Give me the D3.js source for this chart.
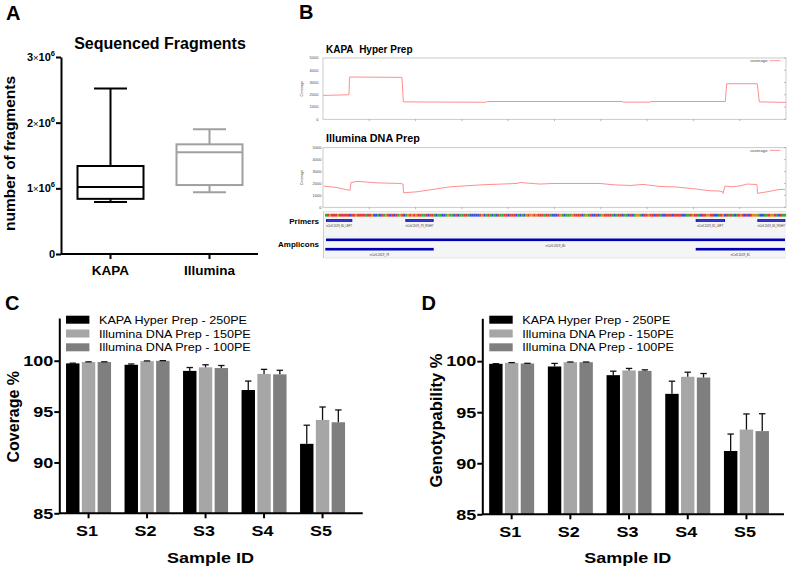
<!DOCTYPE html>
<html><head><meta charset="utf-8">
<script src="https://cdn.jsdelivr.net/npm/d3@7"></script>
<style>
body{margin:0;background:#fff}
svg{display:block}
text{font-family:"Liberation Sans",Arial,Helvetica,sans-serif}
</style>
</head><body>
<svg id="fig" width="787" height="567"></svg>
<script>
// ---------------- DATA ----------------
// Panel A: box plot of sequenced fragments
const boxCategories = ["KAPA", "Illumina"];
const boxMin    = [790000, 940000];
const boxQ1     = [840000, 1050000];
const boxMedian = [1020000, 1550000];
const boxQ3     = [1340000, 1670000];
const boxMax    = [2520000, 1900000];
const boxColors = ["#000000", "#a0a0a0"];
const boxYTicks = [0, 1000000, 2000000, 3000000];

// Panel B: coverage tracks (position offset in bp within window, coverage)
const kapaPos = [0, 26, 26.5, 79, 80.3, 162.7, 164.3, 299, 300.3, 327, 328, 402.3, 403.7, 434.3, 436.3, 463];
const kapaCov = [1950, 2000, 3450, 3420, 1420, 1390, 1450, 1450, 1400, 1400, 1450, 1450, 2900, 2900, 1420, 1380];
const illPos = [1, 13, 27, 28, 34, 40, 54, 77, 80, 80.5, 94, 110, 127, 160, 194, 197, 217, 230, 277, 290, 307, 320, 337, 354, 370, 387, 397, 399.5, 400, 402, 410, 417, 424, 432, 434, 434.5, 444, 457, 462];
const illCov = [1780, 1670, 1420, 2080, 2170, 2140, 2050, 2000, 1950, 1220, 1300, 1500, 1720, 1890, 2000, 2080, 1950, 2000, 2000, 1890, 1830, 1920, 1750, 1700, 1560, 1390, 1360, 1300, 1170, 1780, 1720, 1800, 1950, 1920, 1900, 1170, 1300, 1500, 1500];
const covYTicks = [0, 1000, 2000, 3000, 4000, 5000];
const seqBases = "ATGTTTGTTTTTCTTGTTTTATTGCCACTAGTCTCTAGTCAGTGTGTTAATCTTACAACCAGAACTCAATTACCCCCTGCATACACTAATTCTTTCACACGTGGTGTTTATTACCCTGACAAAGTTTTCAGATCCTCAGTTTTACATTCAACTCAGGACTTGTTCTTACCTTTCTTTTCCAATGTTACTTGGTTCCATGCTATACATGTCTCTGGGACCAATGGTACTAA";
const primerNames = ["nCoV-2019_80_LEFT", "nCoV-2019_79_RIGHT", "nCoV-2019_81_LEFT", "nCoV-2019_80_RIGHT"];
const primerStart = [3, 82.3, 372.7, 434.3];
const primerEnd   = [29.3, 110.7, 402, 462.3];
const ampliconNames = ["nCoV-2019_80", "nCoV-2019_79", "nCoV-2019_81"];
const ampliconStart = [3, 2.3, 372.7];
const ampliconEnd   = [462, 110.7, 462];
const ampliconRow   = [0, 1, 1];

// Panels C & D: bar charts
const samples = ["S1", "S2", "S3", "S4", "S5"];
const seriesNames = ["KAPA Hyper Prep - 250PE", "Illumina DNA Prep - 150PE", "Illumina DNA Prep - 100PE"];
const seriesColors = ["#000000", "#a6a6a6", "#7f7f7f"];
const coverageKAPA = [99.74, 99.60, 99.00, 97.12, 91.83];
const coverageKAPAErr = [0.02, 0.08, 0.33, 0.88, 1.83];
const coverage150 = [99.87, 99.96, 99.35, 98.70, 94.18];
const coverage150Err = [0.02, 0.02, 0.25, 0.45, 1.27];
const coverage100 = [99.87, 99.99, 99.28, 98.66, 93.95];
const coverage100Err = [0.02, 0.02, 0.25, 0.40, 1.21];
const genoKAPA = [99.74, 99.48, 98.63, 96.80, 91.20];
const genoKAPAErr = [0.02, 0.30, 0.39, 1.24, 1.66];
const geno150 = [99.84, 99.90, 99.09, 98.47, 93.30];
const geno150Err = [0.02, 0.02, 0.20, 0.45, 1.53];
const geno100 = [99.77, 99.90, 99.05, 98.40, 93.15];
const geno100Err = [0.02, 0.02, 0.10, 0.39, 1.70];
const barYTicks = [85, 90, 95, 100];

// ---------------- DRAW ----------------
const svg = d3.select("#fig");

function panelLetter(t, x, y) {
  svg.append("text").attr("x", x).attr("y", y).attr("font-size", 20).attr("font-weight", "bold").text(t);
}
panelLetter("A", 6, 19.5);
panelLetter("B", 299, 18.5);
panelLetter("C", 5, 309.5);
panelLetter("D", 421.5, 309.5);

// ===== Panel A =====
(function () {
  const g = svg.append("g");
  const y = d3.scaleLinear().domain([0, 3000000]).range([254, 57]);
  const x = d3.scaleBand().domain(boxCategories).range([61, 259]);
  const yAx = g.append("g").attr("transform", "translate(61,0)")
    .call(d3.axisLeft(y).tickValues(boxYTicks).tickSize(5).tickSizeOuter(0).tickFormat(""));
  yAx.selectAll("path,line").attr("stroke", "#000").attr("stroke-width", 2);
  const xAx = g.append("g").attr("transform", "translate(0,254)")
    .call(d3.axisBottom(x).tickSize(5).tickSizeOuter(0).tickFormat(""));
  xAx.select(".domain").attr("d", "M61,0H258");
  xAx.selectAll("path,line").attr("stroke", "#000").attr("stroke-width", 2);

  boxYTicks.forEach(v => {
    const t = g.append("text").attr("x", 55).attr("y", y(v) + 4).attr("text-anchor", "end")
      .attr("font-size", 11).attr("font-weight", "bold");
    if (v === 0) { t.text("0"); return; }
    t.append("tspan").text(String(v / 1000000));
    t.append("tspan").attr("font-weight", "normal").attr("font-size", 9.5).text("\u00d7");
    t.append("tspan").text("10");
    t.append("tspan").attr("font-size", 7.5).attr("dy", -5).text("6");
  });
  boxCategories.forEach(c => {
    g.append("text").attr("x", x(c) + x.bandwidth() / 2).attr("y", 274.5).attr("text-anchor", "middle")
      .attr("font-size", 13.5).attr("font-weight", "bold").text(c);
  });
  g.append("text").attr("x", 160).attr("y", 48.5).attr("text-anchor", "middle")
    .attr("font-size", 16).attr("font-weight", "bold").text("Sequenced Fragments");
  g.append("text").attr("transform", "translate(14.5,153.5) rotate(-90)").attr("text-anchor", "middle")
    .attr("font-size", 15.5).attr("font-weight", "bold").text("number of fragments");

  boxCategories.forEach((c, i) => {
    const cx = x(c) + x.bandwidth() / 2;
    const col = boxColors[i];
    const bg = g.append("g").attr("stroke", col).attr("stroke-width", 2).attr("fill", "none");
    bg.append("line").attr("x1", cx).attr("x2", cx).attr("y1", y(boxMax[i])).attr("y2", y(boxQ3[i]));
    bg.append("line").attr("x1", cx).attr("x2", cx).attr("y1", y(boxQ1[i])).attr("y2", y(boxMin[i]));
    bg.append("line").attr("x1", cx - 16.5).attr("x2", cx + 16.5).attr("y1", y(boxMax[i])).attr("y2", y(boxMax[i]));
    bg.append("line").attr("x1", cx - 16.5).attr("x2", cx + 16.5).attr("y1", y(boxMin[i])).attr("y2", y(boxMin[i]));
    bg.append("rect").attr("x", cx - 33).attr("width", 66).attr("y", y(boxQ3[i])).attr("height", y(boxQ1[i]) - y(boxQ3[i]));
    bg.append("line").attr("x1", cx - 33).attr("x2", cx + 33).attr("y1", y(boxMedian[i])).attr("y2", y(boxMedian[i]));
  });
})();

// ===== Panel B =====
const xB = d3.scaleLinear().domain([0, 463]).range([323, 786]);
function coveragePlot(top, bottom, pos, cov, title, titleY, titleSize, labelRight) {
  const g = svg.append("g");
  const y = d3.scaleLinear().domain([0, 5000]).range([bottom, top]);
  g.append("rect").attr("x", xB(0)).attr("y", top).attr("width", xB(463) - xB(0)).attr("height", bottom - top)
    .attr("fill", "#fff").attr("stroke", "#bdbdbd").attr("stroke-width", 0.8);
  covYTicks.forEach(v => {
    g.append("text").attr("x", labelRight).attr("y", y(v) + 1.4).attr("text-anchor", "end")
      .attr("font-size", 4).attr("fill", "#444").text(v);
    g.append("line").attr("x1", xB(463) - 2).attr("x2", xB(463)).attr("y1", y(v)).attr("y2", y(v))
      .attr("stroke", "#999").attr("stroke-width", 0.6);
  });
  d3.range(1, 10).forEach(k => {
    const xx = xB(k * 46.3);
    g.append("line").attr("x1", xx).attr("x2", xx).attr("y1", bottom).attr("y2", bottom + 1.8)
      .attr("stroke", "#888").attr("stroke-width", 0.6);
  });
  g.append("text").attr("transform", `translate(${302.5},${(top + bottom) / 2}) rotate(-90)`).attr("text-anchor", "middle")
    .attr("font-size", 3.6).attr("fill", "#444").text("Coverage");
  const line = d3.line().x(d => xB(d[0])).y(d => y(d[1]));
  g.append("path").datum(pos.map((p, i) => [p, cov[i]])).attr("d", line)
    .attr("fill", "none").attr("stroke", "#ff8f8f").attr("stroke-width", 1);
  g.append("text").attr("x", 767.5).attr("y", top + 4).attr("text-anchor", "end")
    .attr("font-size", 4.2).attr("fill", "#444").text("coverage");
  g.append("line").attr("x1", 769.5).attr("x2", 780.5).attr("y1", top + 2.7).attr("y2", top + 2.7)
    .attr("stroke", "#ff8f8f").attr("stroke-width", 0.9);
  g.append("text").attr("x", 326).attr("y", titleY).attr("font-size", titleSize).attr("font-weight", "bold")
    .text(title);
}
coveragePlot(58, 119.3, kapaPos, kapaCov, "KAPA\u00a0 Hyper Prep", 52.7, 10, 318.5);
coveragePlot(147.7, 207.3, illPos, illCov, "Illumina DNA Prep", 142.3, 10.8, 321.5);

(function () {
  const g = svg.append("g");
  g.append("rect").attr("x", 323.5).attr("y", 211.5).attr("width", 462.5).attr("height", 46.5)
    .attr("fill", "#f5f5f5");
  g.append("line").attr("x1", 323.5).attr("x2", 786).attr("y1", 211.5).attr("y2", 211.5).attr("stroke", "#d6d6d6").attr("stroke-width", 0.6);
  g.append("line").attr("x1", 323.5).attr("x2", 786).attr("y1", 258).attr("y2", 258).attr("stroke", "#d6d6d6").attr("stroke-width", 0.6);
  g.append("line").attr("x1", 323.5).attr("x2", 786).attr("y1", 236.5).attr("y2", 236.5).attr("stroke", "#e2e2e2").attr("stroke-width", 0.5);
  g.append("line").attr("x1", 323.5).attr("x2", 323.5).attr("y1", 211.5).attr("y2", 258).attr("stroke", "#c2c2c2").attr("stroke-width", 0.8);
  const baseColor = { A: "#3aa83a", C: "#3a4fe0", G: "#e08a22", T: "#e23a3a" };
  const xs = d3.scaleBand().domain(d3.range(seqBases.length)).range([xB(2), xB(463)]);
  g.selectAll("rect.base").data(seqBases.split("")).join("rect").attr("class", "base")
    .attr("x", (d, i) => xs(i)).attr("width", xs.bandwidth() + 0.15).attr("y", 213.8).attr("height", 2.8)
    .attr("fill", d => baseColor[d]);

  primerNames.forEach((n, i) => {
    const x0 = xB(primerStart[i]), x1 = xB(primerEnd[i]);
    g.append("rect").attr("x", x0).attr("width", x1 - x0).attr("y", 219.2).attr("height", 2.6).attr("fill", "#0000b4");
    g.append("line").attr("x1", x0 + 1).attr("x2", x1 - 1).attr("y1", 220.5).attr("y2", 220.5)
      .attr("stroke", "#8a8af5").attr("stroke-width", 0.4);
    g.append("text").attr("x", (x0 + x1) / 2).attr("y", 226.6).attr("text-anchor", "middle")
      .attr("font-size", 2.7).attr("fill", "#333").text(n);
  });
  ampliconNames.forEach((n, i) => {
    const x0 = xB(ampliconStart[i]), x1 = xB(ampliconEnd[i]);
    const yy = ampliconRow[i] === 0 ? 238.5 : 247.9;
    g.append("rect").attr("x", x0).attr("width", x1 - x0).attr("y", yy).attr("height", 2.6).attr("fill", "#0000b4");
    g.append("text").attr("x", (x0 + x1) / 2).attr("y", yy + 8.4).attr("text-anchor", "middle")
      .attr("font-size", 2.9).attr("fill", "#333").text(n);
  });
  g.append("text").attr("x", 319).attr("y", 224).attr("text-anchor", "end").attr("font-size", 8)
    .attr("font-weight", "bold").text("Primers");
  g.append("text").attr("x", 319).attr("y", 246.5).attr("text-anchor", "end").attr("font-size", 8)
    .attr("font-weight", "bold").text("Amplicons");
})();

// ===== Panels C and D =====
const SX = 1.2; // horizontal stretch of text in these panels
function stretchedText(g, x, y, txt, size, anchor, weight) {
  return g.append("text").attr("transform", `translate(${x},${y}) scale(${SX},1)`)
    .attr("text-anchor", anchor).attr("font-size", size).attr("font-weight", weight).text(txt);
}
function barPanel(o) {
  const g = svg.append("g");
  const y = d3.scaleLinear().domain([85, 104.2]).range([o.bottom, o.top]);
  const x = d3.scaleBand().domain(samples).range([o.left, o.left + 5 * o.step]);
  const xi = d3.scaleBand().domain(seriesNames).range([-22.5, 22.5]).paddingInner(0.15);
  const vals = o.values, errs = o.errors;
  seriesNames.forEach((s, si) => {
    samples.forEach((smp, k) => {
      const cx = x(smp) + x.bandwidth() / 2;
      const bx = cx + xi(s);
      const v = vals[si][k], e = errs[si][k];
      g.append("rect").attr("x", bx).attr("width", xi.bandwidth()).attr("y", y(v)).attr("height", y(85) - y(v))
        .attr("fill", seriesColors[si]);
      const mx = bx + xi.bandwidth() / 2;
      g.append("line").attr("x1", mx).attr("x2", mx).attr("y1", y(v)).attr("y2", y(v + e))
        .attr("stroke", "#111").attr("stroke-width", 1.3);
      g.append("line").attr("x1", mx - 3.2).attr("x2", mx + 3.2).attr("y1", y(v + e)).attr("y2", y(v + e))
        .attr("stroke", "#111").attr("stroke-width", 1.3);
    });
  });
  const yAx = g.append("g").attr("transform", `translate(${o.left},0)`)
    .call(d3.axisLeft(y).tickValues(barYTicks).tickSize(5).tickSizeOuter(0).tickFormat(""));
  yAx.selectAll("path,line").attr("stroke", "#000").attr("stroke-width", 2);
  const xAx = g.append("g").attr("transform", `translate(0,${o.bottom})`)
    .call(d3.axisBottom(x).tickSize(5).tickSizeOuter(0).tickFormat(""));
  xAx.select(".domain").attr("d", `M${o.left},0H${o.axisEnd}`);
  xAx.selectAll("path,line").attr("stroke", "#000").attr("stroke-width", 2);
  barYTicks.forEach(v => stretchedText(g, o.left - 6, y(v) + 5.3, String(v), 15, "end", "bold"));
  samples.forEach(s => stretchedText(g, x(s) + x.bandwidth() / 2 - 1.5, o.bottom + 22.5, s, 15, "middle", "bold"));
  stretchedText(g, o.titleX, 562.5, "Sample ID", 15, "middle", "bold");
  g.append("text").attr("transform", `translate(${o.ylabX},${o.ylabY}) rotate(-90)`).attr("text-anchor", "middle")
    .attr("font-size", o.ylabSize).attr("font-weight", "bold").text(o.ylab);
  seriesNames.forEach((s, si) => {
    const ry = 315.7 + si * 13.8;
    g.append("rect").attr("x", o.legendX).attr("y", ry).attr("width", 23.4).attr("height", 8).attr("fill", seriesColors[si]);
    stretchedText(g, o.legendX + 33, ry + 8, s, 10.5, "start", "normal");
  });
}
barPanel({
  left: 59.3, step: 58.5, axisEnd: 362.7, top: 318, bottom: 513.3,
  values: [coverageKAPA, coverage150, coverage100], errors: [coverageKAPAErr, coverage150Err, coverage100Err],
  ylab: "Coverage %", ylabX: 18.5, ylabY: 416.7, ylabSize: 16, titleX: 210.5, legendX: 66
});
barPanel({
  left: 482.3, step: 58.7, axisEnd: 784, top: 318.3, bottom: 514.3,
  values: [genoKAPA, geno150, geno100], errors: [genoKAPAErr, geno150Err, geno100Err],
  ylab: "Genotypability %", ylabX: 442, ylabY: 420.5, ylabSize: 16.5, titleX: 627.8, legendX: 489.3
});
</script>
</body></html>
